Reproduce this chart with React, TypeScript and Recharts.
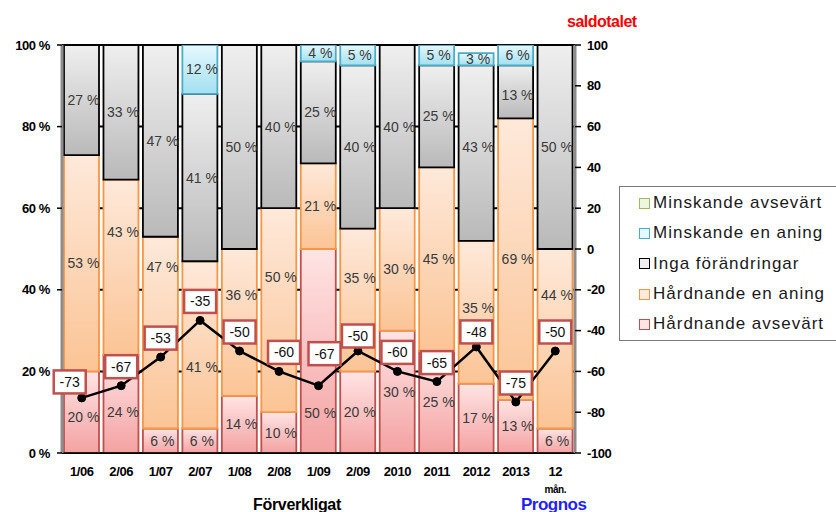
import React from "react";
import {
  ComposedChart,
  Bar,
  Line,
  XAxis,
  YAxis,
  CartesianGrid,
  LabelList,
} from "recharts";

const periods = ["1/06", "2/06", "1/07", "2/07", "1/08", "2/08", "1/09", "2/09", "2010", "2011", "2012", "2013", "12 mån."];
const hardnandeAvsevart = [20, 24, 6, 6, 14, 10, 50, 20, 30, 25, 17, 13, 6];
const hardnandeEnAning = [53, 43, 47, 41, 36, 50, 21, 35, 30, 45, 35, 69, 44];
const ingaForandringar = [27, 33, 47, 41, 50, 40, 25, 40, 40, 25, 43, 13, 50];
const minskandeEnAning = [0, 0, 0, 12, 0, 0, 4, 5, 0, 5, 3, 6, 0];
const minskandeAvsevart = [0, 0, 0, 0, 0, 0, 0, 0, 0, 0, 0, 0, 0];
const saldotalet = [-73, -67, -53, -35, -50, -60, -67, -50, -60, -65, -48, -75, -50];

const pctTicks = [0, 20, 40, 60, 80, 100];
const saldoTicks = [-100, -80, -60, -40, -20, 0, 20, 40, 60, 80, 100];
const edgeTicks = [0, 1, 2, 3, 4, 5, 6, 7, 8, 9, 10, 11, 12, 13];

const FONT = '"Liberation Sans", Arial, sans-serif';

// bottom to top in the stack
const series = [
  { key: "hardAv", name: "Hårdnande avsevärt", values: hardnandeAvsevart, top: "#ffe4e4", bottom: "#f4a2a2", stroke: "#c0504d" },
  { key: "hardEn", name: "Hårdnande en aning", values: hardnandeEnAning, top: "#fee9da", bottom: "#fbc495", stroke: "#f79646" },
  { key: "inga", name: "Inga förändringar", values: ingaForandringar, top: "#efefef", bottom: "#b9b9b9", stroke: "#000000" },
  { key: "minskEn", name: "Minskande en aning", values: minskandeEnAning, top: "#e6f8fd", bottom: "#a2e0f2", stroke: "#4bacc6" },
  { key: "minskAv", name: "Minskande avsevärt", values: minskandeAvsevart, top: "#eef5e0", bottom: "#c3d69b", stroke: "#9bbb59" },
];

// vertical shifts (px) for segment labels that would sit under the saldo boxes
const shareNudge: Record<string, Record<number, number>> = {
  hardAv: { 0: 5, 1: 8, 6: 62 },
  hardEn: { 1: -35, 2: -66, 3: 22, 4: -27, 5: -33, 7: -22, 10: -4, 12: -44 },
  inga: { 10: -6, 11: 3 },
};

// shifts (px) for a few saldo boxes
const saldoNudge: Record<number, { dx: number; dy: number }> = {
  0: { dx: -12, dy: 3 },
  5: { dx: 5, dy: 0 },
  6: { dx: 6, dy: -13 },
  7: { dx: 0, dy: 4 },
  10: { dx: 0, dy: 4 },
};

const rows = periods.map((period, i) => {
  const row: Record<string, string | number> = { period, saldo: saldotalet[i] };
  series.forEach((s) => {
    row[s.key] = s.values[i];
  });
  return row;
});

const axisText = { fontFamily: FONT, fontSize: 13, fontWeight: 700, fill: "#000", letterSpacing: -0.4 };

function PeriodTick(props: any) {
  const { x, y, payload } = props;
  const [main, sub] = String(payload.value).split(" ");
  return (
    <g transform={`translate(${x},${y})`}>
      <text textAnchor="middle" dy="0.71em" style={axisText}>
        {main}
      </text>
      {sub && (
        <text y={19} textAnchor="middle" dy="0.71em" style={{ ...axisText, fontSize: 10 }}>
          {sub}
        </text>
      )}
    </g>
  );
}

// percentage written in the middle of each stacked segment, skipped when empty
function ShareLabel(props: any) {
  const { x, y, width, height, value, index, nudge } = props;
  if (!value) return null;
  const dy = (nudge && nudge[index]) || 0;
  return (
    <text
      x={x + width / 2 + 2}
      y={y + height / 2 + dy}
      textAnchor="middle"
      dominantBaseline="central"
      fontFamily={FONT}
      fontSize={14}
      fill="#3a3a3a"
    >
      {`${value} %`}
    </text>
  );
}

function SaldoLabel(props: any) {
  const { x, y, value, index } = props;
  const shift = saldoNudge[index] || { dx: 0, dy: 0 };
  const w = 32;
  const h = 23;
  const cx = x + shift.dx;
  const cy = y - 19 + shift.dy;
  return (
    <g>
      <rect x={cx - w / 2} y={cy - h / 2} width={w} height={h} fill="#fff" stroke="#c0504d" strokeWidth={2.5} />
      <text x={cx} y={cy} textAnchor="middle" dominantBaseline="central" fontFamily={FONT} fontSize={14} fill="#111">
        {value}
      </text>
    </g>
  );
}

function LegendBox() {
  const order = [...series].reverse();
  return (
    <div
      style={{
        position: "absolute",
        left: 619,
        top: 186,
        width: 240,
        height: 155,
        border: "1.5px solid #7a7a7a",
        background: "#fff",
        boxSizing: "border-box",
        fontFamily: FONT,
        fontSize: 17,
        letterSpacing: 1,
        color: "#1a1a1a",
        paddingTop: 1,
      }}
    >
      {order.map((s) => (
        <div key={s.key} style={{ display: "flex", alignItems: "center", height: 30.3, paddingLeft: 19 }}>
          <span
            style={{
              display: "inline-block",
              width: 9,
              height: 9,
              border: `1.5px solid ${s.stroke}`,
              background: s.top,
              marginRight: 3,
            }}
          />
          {s.name}
        </div>
      ))}
    </div>
  );
}

export default function App() {
  return (
    <div style={{ position: "absolute", left: 0, top: 0, width: 836, height: 512, background: "#fff", overflow: "hidden" }}>
      <ComposedChart
        width={836}
        height={512}
        data={rows}
        margin={{ top: 45, right: 217, bottom: 29, left: 0 }}
        barCategoryGap={2}
      >
        <defs>
          {series.map((s) => (
            <linearGradient key={s.key} id={`grad-${s.key}`} x1="0" y1="0" x2="0" y2="1">
              <stop offset="0%" stopColor={s.top} />
              <stop offset="100%" stopColor={s.bottom} />
            </linearGradient>
          ))}
        </defs>
        <CartesianGrid
          vertical={false}
          yAxisId="pct"
          xAxisId="cat"
          stroke="#000"
          strokeWidth={2}
          horizontalValues={pctTicks}
        />
        <XAxis
          xAxisId="edges"
          type="number"
          domain={[0, 13]}
          ticks={edgeTicks}
          interval={0}
          height={0}
          tick={false}
          axisLine={false}
          tickLine={{ stroke: "#000", strokeWidth: 1.5 }}
          tickSize={5}
        />
        <XAxis
          xAxisId="cat"
          dataKey="period"
          height={30}
          interval={0}
          tickLine={false}
          axisLine={{ stroke: "#000", strokeWidth: 1.5 }}
          tickSize={0}
          tickMargin={14}
          tick={<PeriodTick />}
        />
        <YAxis
          yAxisId="pct"
          orientation="left"
          width={62}
          domain={[0, 100]}
          allowDataOverflow
          ticks={pctTicks}
          interval={0}
          tickFormatter={(v) => `${v} %`}
          axisLine={{ stroke: "#8c8c8c", strokeWidth: 3 }}
          tickLine={{ stroke: "#000", strokeWidth: 1.5 }}
          tickSize={5}
          tickMargin={7}
          tick={axisText}
        />
        <YAxis
          yAxisId="saldo"
          orientation="right"
          width={44}
          domain={[-100, 100]}
          ticks={saldoTicks}
          interval={0}
          axisLine={{ stroke: "#8c8c8c", strokeWidth: 3 }}
          tickLine={{ stroke: "#000", strokeWidth: 1.5 }}
          tickSize={6}
          tickMargin={6}
          tick={axisText}
        />
        {series.map((s) => (
          <Bar
            key={s.key}
            dataKey={s.key}
            name={s.name}
            stackId="andel"
            xAxisId="cat"
            yAxisId="pct"
            fill={`url(#grad-${s.key})`}
            stroke={s.stroke}
            strokeWidth={1.8}
            isAnimationActive={false}
          >
            <LabelList dataKey={s.key} content={<ShareLabel nudge={shareNudge[s.key]} />} />
          </Bar>
        ))}
        <Line
          dataKey="saldo"
          name="saldotalet"
          xAxisId="cat"
          yAxisId="saldo"
          stroke="#000"
          strokeWidth={2.5}
          dot={{ r: 4, fill: "#000", stroke: "#000", strokeWidth: 1 }}
          isAnimationActive={false}
        >
          <LabelList dataKey="saldo" content={<SaldoLabel />} />
        </Line>
      </ComposedChart>
      <div style={{ position: "absolute", left: 567, top: 13, fontFamily: FONT, fontSize: 16, fontWeight: 700, color: "#ff0000", letterSpacing: -0.5 }}>
        saldotalet
      </div>
      <div style={{ position: "absolute", left: 253, top: 496, fontFamily: FONT, fontSize: 16, fontWeight: 700, color: "#000", letterSpacing: -0.3 }}>
        Förverkligat
      </div>
      <div style={{ position: "absolute", left: 521, top: 495, fontFamily: FONT, fontSize: 17, fontWeight: 700, color: "#1f1fff", letterSpacing: -0.5 }}>
        Prognos
      </div>
      <LegendBox />
    </div>
  );
}
